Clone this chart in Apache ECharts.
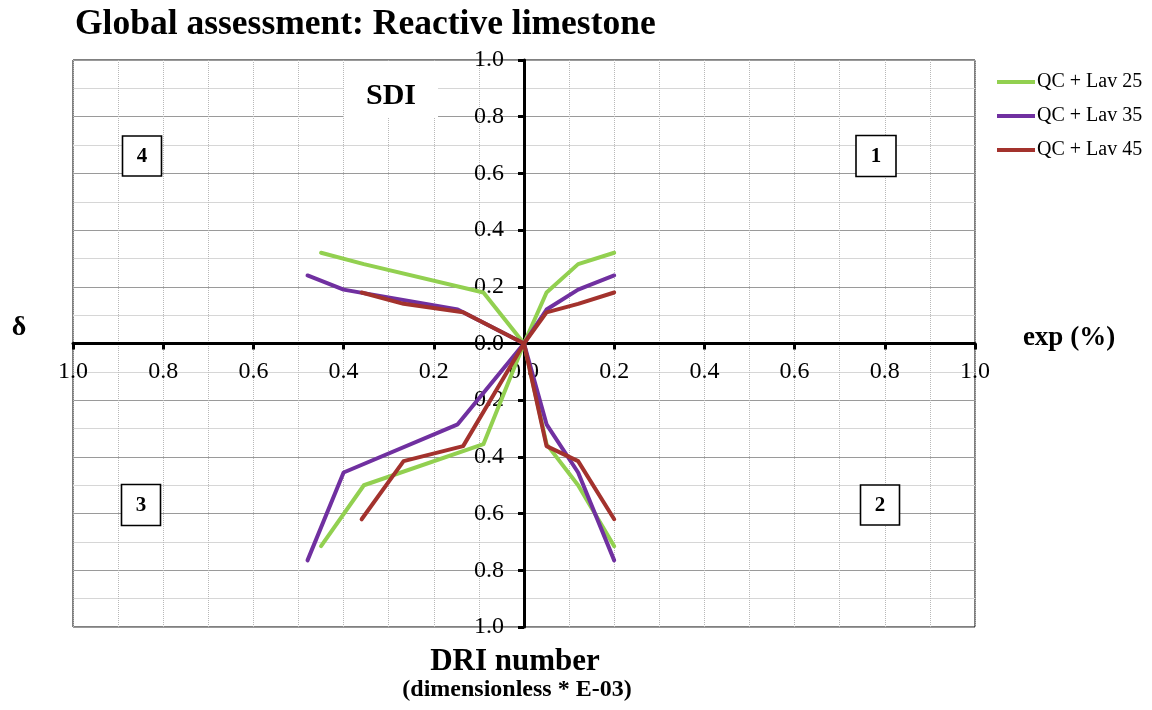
<!DOCTYPE html>
<html>
<head>
<meta charset="utf-8">
<title>Global assessment: Reactive limestone</title>
<script src="https://cdn.jsdelivr.net/npm/echarts@6/dist/echarts.min.js"></script>
<style>
  html, body { margin: 0; padding: 0; background: #fff; }
  #chart { width: 1152px; height: 710px; }
</style>
</head>
<body>
<div id="chart"></div>
<script>
// Mix names (legend entries)
const mixNames = ['QC + Lav 25', 'QC + Lav 35', 'QC + Lav 45'];
const mixColors = ['#92D050', '#7030A0', '#A3322D'];

// Expansion (%) for each mix – right-hand half
const expLav25 = [0.05, 0.12, 0.20];
const expLav35 = [0.05, 0.12, 0.20];
const expLav45 = [0.05, 0.12, 0.20];

// DRI number (dimensionless * E-03) – left-hand half
const driLav25 = [0.09, 0.355, 0.45];
const driLav35 = [0.147, 0.40, 0.48];
const driLav45 = [0.135, 0.267, 0.36];

// δ (upper half)
const deltaLav25 = [0.18, 0.28, 0.32];
const deltaLav35 = [0.12, 0.19, 0.24];
const deltaLav45 = [0.11, 0.14, 0.18];

// SDI index (lower half, plotted downwards)
const sdiLav25 = [0.355, 0.50, 0.715];
const sdiLav35 = [0.285, 0.455, 0.765];
const sdiLav45 = [0.362, 0.415, 0.62];

// Axis range / ticks
const axisMin = -1.0;
const axisMax = 1.0;
const axisStep = 0.2;

const mixes = [
  { exp: expLav25, dri: driLav25, delta: deltaLav25, sdi: sdiLav25 },
  { exp: expLav35, dri: driLav35, delta: deltaLav35, sdi: sdiLav35 },
  { exp: expLav45, dri: driLav45, delta: deltaLav45, sdi: sdiLav45 }
];

const serif = "'Liberation Serif', 'DejaVu Serif', serif";

// Plot-area geometry
const gridLeft = 73, gridRight = 177, gridTop = 60, gridBottom = 83;
const chartW = 1152, chartH = 710;
const halfW = (chartW - gridLeft - gridRight) / 2;
const halfH = (chartH - gridTop - gridBottom) / 2;

// Each quadrant branch starts at the origin
function branch(xs, ys, sx, sy) {
  const pts = [[0, 0]];
  for (let i = 0; i < xs.length; i++) pts.push([sx * xs[i], sy * ys[i]]);
  return pts;
}

const series = [];
mixes.forEach((m, k) => {
  const branches = [
    branch(m.exp, m.delta, 1, 1),    // quadrant 1
    branch(m.dri, m.delta, -1, 1),   // quadrant 4
    branch(m.dri, m.sdi, -1, -1),    // quadrant 3
    branch(m.exp, m.sdi, 1, -1)      // quadrant 2
  ];
  branches.forEach(d => {
    series.push({
      name: mixNames[k],
      type: 'line',
      data: d,
      showSymbol: false,
      symbol: 'none',
      smooth: false,
      color: mixColors[k],
      lineStyle: { color: mixColors[k], width: 4, cap: 'round', join: 'round' },
      z: 3 + k,
      silent: true,
      animation: false
    });
  });
});

const absLabel = v => Math.abs(v).toFixed(1);

function numberBox(cx, cy, w, h, txt) {
  return [
    { type: 'rect', shape: { x: cx - w / 2, y: cy - h / 2, width: w, height: h },
      style: { fill: '#fff', stroke: '#000', lineWidth: 1.6 }, z: 50 },
    { type: 'text', x: cx, y: cy + 1, z: 51,
      style: { text: txt, font: 'bold 21px ' + serif, fill: '#000',
               align: 'center', verticalAlign: 'middle', textAlign: 'center', textVerticalAlign: 'middle' } }
  ];
}

function label(x, y, txt, font, align) {
  return { type: 'text', x: x, y: y, z: 60,
    style: { text: txt, font: font, fill: '#000',
             align: align || 'center', verticalAlign: 'middle',
             textAlign: align || 'center', textVerticalAlign: 'middle' } };
}

const chart = echarts.init(document.getElementById('chart'), null, { renderer: 'canvas' });

chart.setOption({
  animation: false,
  backgroundColor: '#fff',
  textStyle: { fontFamily: serif },
  title: {
    text: 'Global assessment: Reactive limestone',
    left: 75, top: 7, padding: 0,
    textStyle: { fontFamily: serif, fontSize: 35.5, fontWeight: 'bold', color: '#000' }
  },
  legend: {
    data: mixNames,
    orient: 'vertical',
    left: 997, top: 72,
    icon: 'rect',
    itemWidth: 38, itemHeight: 4,
    itemGap: 14,
    padding: 0,
    textStyle: { fontFamily: serif, fontSize: 20, color: '#000', padding: [0, 0, 0, -3] }
  },
  grid: {
    left: gridLeft, right: gridRight, top: gridTop, bottom: gridBottom,
    show: true, borderColor: '#000', borderWidth: 1,
    backgroundColor: 'transparent',
    outerBoundsMode: 'none',
    containLabel: false
  },
  xAxis: {
    type: 'value',
    position: 'bottom',
    offset: -halfH,             // axis drawn through the centre of the plot
    min: axisMin, max: axisMax, interval: axisStep,
    axisLine: { show: true, onZero: false, lineStyle: { color: '#000', width: 3 } },
    axisTick: { show: true, length: 6, lineStyle: { color: '#000', width: 3 } },
    axisLabel: { formatter: absLabel, fontFamily: serif, fontSize: 24, color: '#000', margin: 16 },
    splitLine: { show: true, lineStyle: { color: '#b8b8b8', type: 'dotted', width: 1 } },
    minorTick: { show: false, splitNumber: 2 },
    minorSplitLine: { show: true, lineStyle: { color: '#b8b8b8', type: 'dotted', width: 1 } }
  },
  yAxis: {
    type: 'value',
    position: 'left',
    offset: -halfW,             // axis drawn through the centre of the plot
    min: axisMin, max: axisMax, interval: axisStep,
    axisLine: { show: true, onZero: false, lineStyle: { color: '#000', width: 3 } },
    axisTick: { show: true, length: 6, lineStyle: { color: '#000', width: 3 } },
    axisLabel: { formatter: absLabel, fontFamily: serif, fontSize: 24, color: '#000', margin: 20 },
    splitLine: { show: true, lineStyle: { color: '#9a9a9a', width: 1 } },
    minorTick: { show: false, splitNumber: 2 },
    minorSplitLine: { show: true, lineStyle: { color: '#d6d6d6', width: 1 } }
  },
  series: series,
  graphic: [
    // "SDI" panel label on a white patch
    { type: 'rect', shape: { x: 344, y: 61, width: 94, height: 56 },
      style: { fill: '#fff' }, z: 40 },
    label(391, 96, 'SDI', 'bold 30px ' + serif),
    ...numberBox(876, 156, 40, 41, '1'),
    ...numberBox(880, 505, 39, 40, '2'),
    ...numberBox(141, 505, 39, 41, '3'),
    ...numberBox(142, 156, 39, 40, '4'),
    // axis titles
    label(19, 328, 'δ', 'bold 28px ' + serif),
    label(1069, 338, 'exp (%)', 'bold 27px ' + serif),
    label(515, 662, 'DRI number', 'bold 31px ' + serif),
    label(517, 690, '(dimensionless * E-03)', 'bold 24px ' + serif)
  ]
});
</script>
</body>
</html>
